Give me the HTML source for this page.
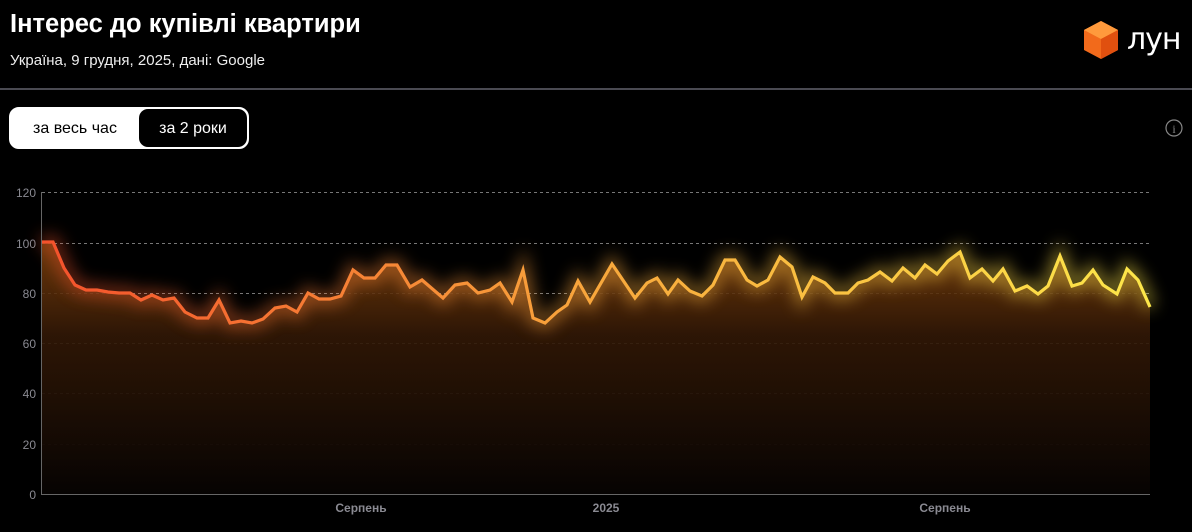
<!DOCTYPE html>
<html><head><meta charset="utf-8"><style>
body{margin:0;width:1192px;height:532px;background:#000;overflow:hidden;font-family:"Liberation Sans",sans-serif;color:#fff;position:relative}
.t{position:absolute;left:10px;top:10px;font-size:25.5px;font-weight:bold}
.s{position:absolute;left:10px;top:52px;font-size:15px;color:#eee}
.sep{position:absolute;left:0;top:88px;width:1192px;height:2px;background:#4a4a52}
.tog{position:absolute;left:9px;top:107px;width:236px;height:38px;border:2px solid #fff;border-radius:10px;background:#fff;overflow:hidden}
.tog div{position:absolute;top:0;height:38px;line-height:40px;font-size:16px;text-align:center}
.a{left:0;width:128px;color:#000}
.b{left:128px;width:108px;background:#000;color:#fff;border-radius:9px}
.logo{position:absolute;left:1127px;top:22px;font-size:30px;font-family:"DejaVu Sans",sans-serif;letter-spacing:-1px}
</style></head><body>
<div class="t">Інтерес до купівлі квартири</div>
<div class="s">Україна, 9 грудня, 2025, дані: Google</div>
<svg style="position:absolute;left:1082px;top:20px" width="38" height="40" viewBox="0 0 38 40"><polygon points="19,1 36,10 36,30 19,39 2,30 2,10" fill="#f26a1b"/><polygon points="19,1 36,10 19,19 2,10" fill="#ff9a3c"/><polygon points="19,19 36,10 36,30 19,39" fill="#e0500f"/></svg>
<div class="logo">лун</div>
<div class="sep"></div>
<div class="tog"><div class="a">за весь час</div><div class="b">за 2 роки</div></div>
<svg style="position:absolute;left:1165px;top:119px" width="18" height="18"><circle cx="9" cy="9" r="8" fill="none" stroke="#888" stroke-width="1.2"/><text x="9" y="14" font-size="12" fill="#888" text-anchor="middle" font-family="Liberation Serif">i</text></svg>
<svg style="position:absolute;left:0;top:0" width="1192" height="532">
<defs>
<linearGradient id="lg" x1="41" x2="1150" gradientUnits="userSpaceOnUse"><stop offset="0" stop-color="#f4512c"/><stop offset="0.5" stop-color="#f8a73c"/><stop offset="1" stop-color="#fde74a"/></linearGradient>
<linearGradient id="fg" x1="0" y1="250" x2="0" y2="494" gradientUnits="userSpaceOnUse"><stop offset="0" stop-color="#7a3f0c" stop-opacity="0.85"/><stop offset="0.35" stop-color="#321806" stop-opacity="0.9"/><stop offset="1" stop-color="#060302"/></linearGradient>
<filter id="gl" x="-5%" y="-50%" width="110%" height="200%"><feGaussianBlur stdDeviation="8"/></filter>
</defs>
<g font-size="12" fill="#8a8a92" text-anchor="end">
<text x="36" y="197">120</text><text x="36" y="248">100</text><text x="36" y="298">80</text><text x="36" y="348">60</text><text x="36" y="398">40</text><text x="36" y="449">20</text><text x="36" y="499">0</text>
</g>
<g stroke="#777" stroke-dasharray="3,3" stroke-width="1"><line x1="42" x2="1150" y1="192.5" y2="192.5"/><line x1="42" x2="1150" y1="243.5" y2="243.5"/><line x1="42" x2="1150" y1="293.5" y2="293.5"/><line x1="42" x2="1150" y1="343.5" y2="343.5"/><line x1="42" x2="1150" y1="393.5" y2="393.5"/><line x1="42" x2="1150" y1="444.5" y2="444.5"/></g>
<g id="g"></g>
<line x1="41.5" y1="192" x2="41.5" y2="494" stroke="#666"/>
<line x1="41" y1="494.5" x2="1150" y2="494.5" stroke="#666"/>
<g font-size="12" font-weight="bold" fill="#8a8a92" text-anchor="middle"><text x="361" y="512">Серпень</text><text x="606" y="512">2025</text><text x="945" y="512">Серпень</text></g>
</svg>
<script>
var P=[[41,242],[53,242],[64,268],[75,285],[86,290],[97,290],[108,292],[119,293],[130,293],[141,300],[152,295],[163,300],[174,298],[185,312],[197,318],[208,318],[219,300],[230,323],[241,321],[252,323],[263,319],[275,308],[286,306],[297,312],[308,293],[319,299],[330,299],[341,296],[353,270],[364,278],[375,278],[386,265],[397,265],[410,287],[422,280],[443,298],[455,285],[467,283],[478,293],[490,290],[500,283],[512,302],[523,270],[533,318],[545,323],[557,312],[567,305],[578,281],[590,302],[612,264],[635,298],[647,283],[657,278],[668,294],[678,280],[690,291],[702,296],[713,285],[725,260],[735,260],[747,280],[757,286],[768,280],[780,257],[792,267],[802,297],[813,277],[825,283],[835,293],[848,293],[858,283],[868,280],[880,272],[892,281],[903,268],[915,278],[925,265],[937,274],[948,261],[960,252],[970,278],[982,269],[993,281],[1003,269],[1015,291],[1027,286],[1038,294],[1048,286],[1060,256],[1072,286],[1082,283],[1093,270],[1103,285],[1117,294],[1127,269],[1138,280],[1150,307]];
var d="M"+P.map(p=>p.join(",")).join("L");
var ns="http://www.w3.org/2000/svg",g=document.getElementById("g");
function mk(a){var e=document.createElementNS(ns,"path");for(var k in a)e.setAttribute(k,a[k]);g.appendChild(e);}
mk({d:d+"L1150,494L41,494Z",fill:"url(#fg)"});
mk({d:d,fill:"none",stroke:"url(#lg)","stroke-width":12,opacity:0.5,filter:"url(#gl)"});
mk({d:d,fill:"none",stroke:"url(#lg)","stroke-width":3.2,"stroke-linejoin":"miter"});
</script>
</body></html>
